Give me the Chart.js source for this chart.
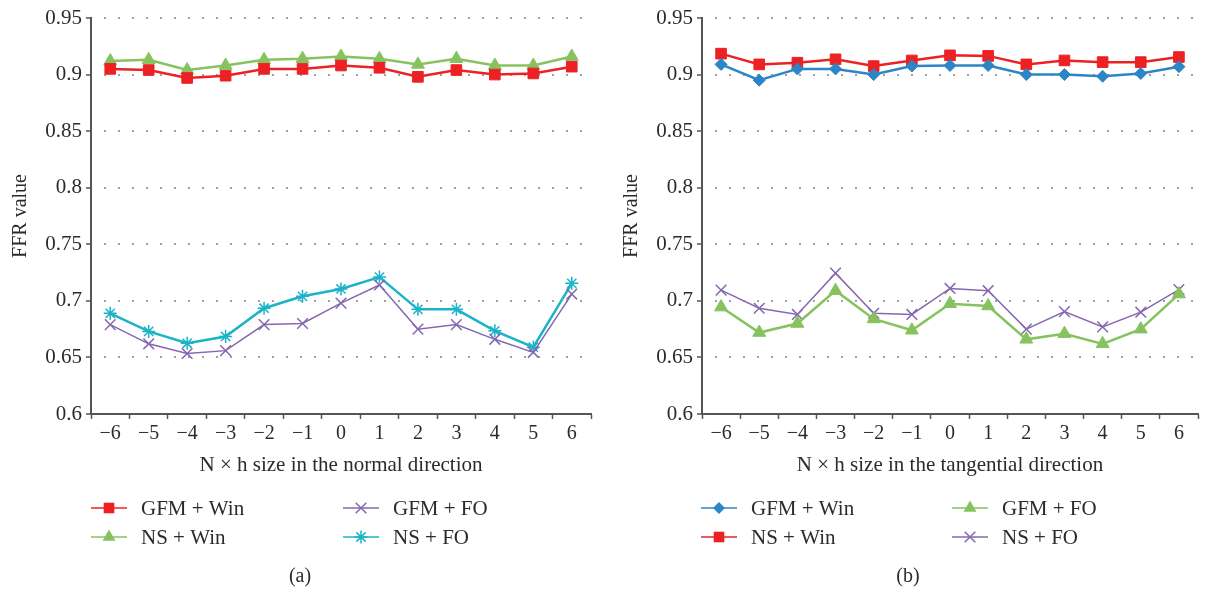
<!DOCTYPE html>
<html>
<head>
<meta charset="utf-8">
<script src="https://cdn.jsdelivr.net/npm/chart.js"></script>
<style>
  html, body { margin: 0; padding: 0; background: #ffffff; }
  #wrap { position: relative; width: 1207px; height: 591px; overflow: hidden; }
  #cA { position: absolute; left: 0; top: 0; }
  #cB { position: absolute; left: 600px; top: 0; }
</style>
</head>
<body>
<div id="wrap">
  <canvas id="cA" width="600" height="591"></canvas>
  <canvas id="cB" width="607" height="591"></canvas>
</div>
<script>
// ---------- data ----------
const categories = ['\u22126', '\u22125', '\u22124', '\u22123', '\u22122', '\u22121', '0', '1', '2', '3', '4', '5', '6'];
const yTicks = [0.6, 0.65, 0.7, 0.75, 0.8, 0.85, 0.9, 0.95];

// (a) normal direction
const aGfmWin = [0.905, 0.904, 0.897, 0.899, 0.905, 0.905, 0.908, 0.906, 0.898, 0.904, 0.900, 0.901, 0.907];
const aNsWin  = [0.912, 0.913, 0.904, 0.908, 0.913, 0.914, 0.916, 0.914, 0.909, 0.914, 0.908, 0.908, 0.916];
const aGfmFo  = [0.679, 0.662, 0.6535, 0.656, 0.679, 0.680, 0.698, 0.714, 0.675, 0.679, 0.666, 0.6545, 0.706];
const aNsFo   = [0.689, 0.673, 0.6625, 0.6685, 0.6935, 0.704, 0.7105, 0.721, 0.6925, 0.6925, 0.6735, 0.659, 0.7155];

// (b) tangential direction
const bGfmWin = [0.909, 0.895, 0.905, 0.905, 0.900, 0.9075, 0.908, 0.908, 0.900, 0.900, 0.8985, 0.901, 0.907];
const bNsWin  = [0.9185, 0.909, 0.9105, 0.9135, 0.9075, 0.9125, 0.917, 0.9165, 0.909, 0.9125, 0.911, 0.911, 0.9155];
const bGfmFo  = [0.6945, 0.672, 0.680, 0.709, 0.684, 0.674, 0.6975, 0.6955, 0.666, 0.671, 0.662, 0.675, 0.706];
const bNsFo   = [0.7095, 0.6935, 0.688, 0.7245, 0.689, 0.688, 0.711, 0.709, 0.675, 0.6905, 0.677, 0.690, 0.710];

const xTitleA = 'N \u00d7 h size in the normal direction';
const xTitleB = 'N \u00d7 h size in the tangential direction';
const yTitle = 'FFR value';

// ---------- styles ----------
const FONT = "'Liberation Serif', 'Times New Roman', serif";
const TEXT = '#2b2b2b';
const AXIS = '#555555';
const C = { red: '#ED2124', green: '#86C35F', cyan: '#1BB3C8', purple: '#8667B0', blue: '#2C85C6' };
const ST = {
  red:    { color: C.red,    width: 2.5, style: 'rect',     r: 7.5, pbw: 1 },
  green:  { color: C.green,  width: 2.5, style: 'triangle', r: 7.5, pbw: 1 },
  cyan:   { color: C.cyan,   width: 2.5, style: 'star',     r: 6.5, pbw: 1.5 },
  purple: { color: C.purple, width: 1.5, style: 'crossRot', r: 7.5, pbw: 1.5 },
  blue:   { color: C.blue,   width: 2.5, style: 'rectRot',  r: 6,   pbw: 1 }
};

Chart.defaults.font.family = FONT;
Chart.defaults.color = TEXT;

function ds(label, data, s) {
  return {
    label: label, data: data,
    borderColor: s.color, backgroundColor: s.color,
    borderWidth: s.width,
    pointStyle: s.style, pointRadius: s.r, pointHoverRadius: s.r,
    pointBorderWidth: s.pbw, pointBackgroundColor: s.color, pointBorderColor: s.color,
    tension: 0, fill: false
  };
}

// Simple marker drawing for the legend
function drawMarker(ctx, style, x, y, r, color, lw) {
  ctx.save();
  ctx.fillStyle = color; ctx.strokeStyle = color; ctx.lineWidth = lw;
  ctx.beginPath();
  if (style === 'rect') {
    const s = r * Math.SQRT1_2;
    ctx.rect(x - s, y - s, 2 * s, 2 * s); ctx.fill();
  } else if (style === 'rectRot') {
    ctx.moveTo(x, y - r); ctx.lineTo(x + r, y); ctx.lineTo(x, y + r); ctx.lineTo(x - r, y); ctx.closePath(); ctx.fill();
  } else if (style === 'triangle') {
    ctx.moveTo(x, y - r);
    ctx.lineTo(x + r * Math.sin(Math.PI / 3), y + r / 2);
    ctx.lineTo(x - r * Math.sin(Math.PI / 3), y + r / 2);
    ctx.closePath(); ctx.fill();
  } else if (style === 'crossRot' || style === 'star') {
    const d = r * Math.SQRT1_2;
    ctx.moveTo(x - d, y - d); ctx.lineTo(x + d, y + d);
    ctx.moveTo(x - d, y + d); ctx.lineTo(x + d, y - d);
    if (style === 'star') {
      ctx.moveTo(x, y - r); ctx.lineTo(x, y + r);
      ctx.moveTo(x - r, y); ctx.lineTo(x + r, y);
    }
    ctx.stroke();
  }
  ctx.restore();
}

function makeLegendPlugin(items, caption, captionX) {
  return {
    id: 'customLegend',
    afterDraw(chart) {
      const ctx = chart.ctx;
      ctx.save();
      ctx.font = '21px ' + FONT;
      ctx.fillStyle = TEXT;
      ctx.textBaseline = 'middle';
      ctx.textAlign = 'left';
      items.forEach(it => {
        const s = it.s;
        ctx.save();
        ctx.strokeStyle = s.color; ctx.lineWidth = 1.5;
        ctx.beginPath(); ctx.moveTo(it.x, it.y); ctx.lineTo(it.x + 36, it.y); ctx.stroke();
        ctx.restore();
        drawMarker(ctx, s.style, it.x + 18, it.y, s.r, s.color, 1.5);
        ctx.fillStyle = TEXT;
        ctx.fillText(it.label, it.x + 50, it.y + 1);
      });
      ctx.textAlign = 'center';
      ctx.font = '20px ' + FONT;
      ctx.fillText(caption, captionX, 577);
      ctx.restore();
    }
  };
}

function makeOptions(xTitle, padLeft, padRight) {
  return {
    responsive: false,
    animation: false,
    devicePixelRatio: 1,
    layout: { padding: { top: 18, bottom: 113, left: padLeft, right: padRight } },
    plugins: { legend: { display: false }, tooltip: { enabled: false } },
    scales: {
      x: {
        type: 'category',
        offset: true,
        grid: { display: true, offset: true, drawOnChartArea: false, drawTicks: true,
                tickLength: 5, tickColor: AXIS, tickWidth: 1.5 },
        border: { display: true, color: AXIS, width: 2 },
        ticks: { font: { size: 20 }, color: TEXT, padding: 3, maxRotation: 0, autoSkip: false },
        title: { display: true, text: xTitle, font: { size: 21 }, color: TEXT, padding: { top: 4, bottom: 0 } },
        afterFit(scale) { scale.height = 64; }
      },
      y: {
        min: 0.6, max: 0.95,
        afterBuildTicks(scale) { scale.ticks = yTicks.map(v => ({ value: v })); },
        grid: { display: true, drawOnChartArea: true, drawTicks: true, tickLength: 5,
                color: (c) => (c.tick && Math.abs(c.tick.value - 0.6) < 1e-9) ? 'rgba(0,0,0,0)' : '#a0a0a0',
                lineWidth: 2, tickColor: AXIS, tickWidth: 1.5, tickBorderDash: [] },
        border: { display: true, color: AXIS, width: 2, dash: [2, 12], dashOffset: 2 },
        ticks: { font: { size: 21 }, color: TEXT, padding: 4,
                 callback: (v) => String(Number(v.toFixed(2))) },
        title: { display: true, text: yTitle, font: { size: 20 }, color: TEXT, padding: { top: 9, bottom: 0 } },
        afterFit(scale) { scale.width = 91; }
      }
    }
  };
}

// ---------- chart (a) ----------
new Chart(document.getElementById('cA'), {
  type: 'line',
  data: {
    labels: categories,
    datasets: [
      ds('GFM + Win', aGfmWin, ST.red),
      ds('NS + Win', aNsWin, ST.green),
      ds('GFM + FO', aGfmFo, ST.purple),
      ds('NS + FO', aNsFo, ST.cyan)
    ]
  },
  options: makeOptions(xTitleA, 0, 9),
  plugins: [makeLegendPlugin([
    { label: 'GFM + Win', s: ST.red,    x: 91,  y: 508 },
    { label: 'NS + Win',  s: ST.green,  x: 91,  y: 537 },
    { label: 'GFM + FO',  s: ST.purple, x: 343, y: 508 },
    { label: 'NS + FO',   s: ST.cyan,   x: 343, y: 537 }
  ], '(a)', 300)]
});

// ---------- chart (b) ----------
new Chart(document.getElementById('cB'), {
  type: 'line',
  data: {
    labels: categories,
    datasets: [
      ds('GFM + Win', bGfmWin, ST.blue),
      ds('NS + Win', bNsWin, ST.red),
      ds('GFM + FO', bGfmFo, ST.green),
      ds('NS + FO', bNsFo, ST.purple)
    ]
  },
  options: makeOptions(xTitleB, 11, 5),
  plugins: [makeLegendPlugin([
    { label: 'GFM + Win', s: ST.blue,   x: 101, y: 508 },
    { label: 'NS + Win',  s: ST.red,    x: 101, y: 537 },
    { label: 'GFM + FO',  s: ST.green,  x: 352, y: 508 },
    { label: 'NS + FO',   s: ST.purple, x: 352, y: 537 }
  ], '(b)', 308)]
});
</script>
</body>
</html>
